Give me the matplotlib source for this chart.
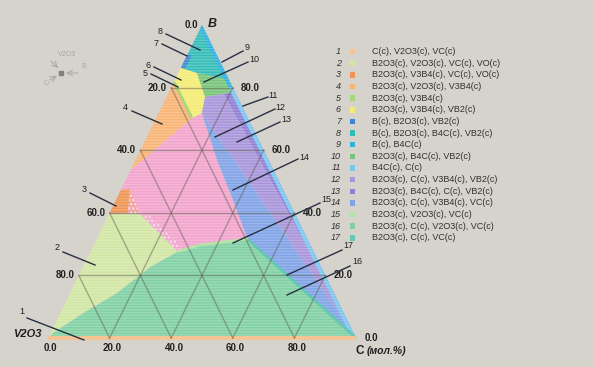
import matplotlib.pyplot as plt
from matplotlib.patches import Polygon

W, H, DPI = 593, 367, 100
BG = '#d6d3cd'

# phase fields of the V2O3-B-C section, vertices as (C mol.%, B mol.%)
field_1 = [(0, 0), (100, 0)]
field_2 = [(0, 39.6), (10.1, 39.6), (28.3, 27.6), (21.8, 22.7), (15.2, 14.4),
           (7.4, 8.0), (0.8, 1.6), (0, 0)]
field_3 = [(0, 47.3), (2.8, 47.6), (6.0, 39.9), (0, 39.6)]
field_3b = [(2.8, 47.6), (10.1, 39.6), (6.0, 39.9)]
field_4 = [(0, 81.8), (11.6, 70.3), (0, 53.7)]
field_5 = [(0, 81.8), (11.6, 70.3)]
field_6 = [(0, 86.3), (6.0, 84.7), (12.5, 77.0), (14.0, 71.9), (11.6, 70.3), (0, 81.8)]
field_7 = [(0, 90.5), (0, 86.3), (1.5, 86.0), (1.5, 90.2)]
field_8 = [(0, 100), (0, 86.3), (6.0, 84.7), (17.6, 82.4)]
field_9 = [(0, 100), (20, 80), (18.6, 80), (0, 98.6)]
field_10 = [(6.0, 84.7), (17.6, 82.4), (21.4, 78.6), (12.5, 77.0)]
field_11 = [(20, 80), (100, 0), (98.6, 0), (18.6, 80)]
field_12 = [(14.0, 71.9), (12.5, 77.0), (18.0, 78.0), (100, 0)]
field_13 = [(18.0, 78.0), (21.4, 78.6), (100, 0)]
field_14 = [(14.0, 71.9), (26.4, 56.9), (38.0, 44.1), (49.0, 31.6), (100, 0)]
field_15 = [(28.3, 27.6), (34.5, 29.7), (49.0, 31.6)]
field_16 = [(0, 0), (0.8, 1.6), (7.4, 8.0), (15.2, 14.4), (21.8, 22.7), (28.3, 27.6),
            (34.5, 29.7), (49.0, 31.6), (100, 0)]
field_17 = [(49.0, 31.6), (100, 0)]
field_pink = [(11.6, 70.3), (14.0, 71.9), (26.4, 56.9), (38.0, 44.1), (49.0, 31.6),
              (34.5, 29.7), (28.3, 27.6), (10.1, 39.6), (2.8, 47.6), (0, 47.3), (0, 53.7)]
# dotted fringe of the pink field along its lower-left border
fringe = [(10.1, 39.6), (28.3, 27.6), (30.2, 28.2), (12.8, 39.6)]

colors = ['#f4c494', '#d2e6a4', '#f09454', '#f8b474', '#a8d878', '#f4ec74',
          '#3c88d0', '#34bcb8', '#30b0e0', '#78c478', '#78c8f0', '#a894da',
          '#8e7ed4', '#80a2e6', '#b4e4a8', '#80d0a4', '#64c8b4']
PINK = '#f2a4cc'

legend_text = ['C(c), V2O3(c), VC(c)',
               'B2O3(c), V2O3(c), VC(c), VO(c)',
               'B2O3(c), V3B4(c), VC(c), VO(c)',
               'B2O3(c), V2O3(c), V3B4(c)',
               'B2O3(c), V3B4(c)',
               'B2O3(c), V3B4(c), VB2(c)',
               'B(c), B2O3(c), VB2(c)',
               'B(c), B2O3(c), B4C(c), VB2(c)',
               'B(c), B4C(c)',
               'B2O3(c), B4C(c), VB2(c)',
               'B4C(c), C(c)',
               'B2O3(c), C(c), V3B4(c), VB2(c)',
               'B2O3(c), B4C(c), C(c), VB2(c)',
               'B2O3(c), C(c), V3B4(c), VC(c)',
               'B2O3(c), V2O3(c), VC(c)',
               'B2O3(c), C(c), V2O3(c), VC(c)',
               'B2O3(c), C(c), VC(c)']

ticks = [0, 20, 40, 60, 80]

# field number -> (text position, leader start, leader end) in pixels
callouts = {
    '1': ((22, 312), (27, 318), (84, 340)),
    '2': ((57, 248), (63, 252), (95, 265)),
    '3': ((84, 190), (90, 193), (116, 206)),
    '4': ((125, 107), (132, 111), (162, 124)),
    '5': ((145, 73), (151, 74), (178, 87)),
    '6': ((148, 66), (154, 67), (181, 80)),
    '7': ((156, 43), (162, 44), (187, 56)),
    '8': ((160, 32), (166, 34), (200, 50)),
    '9': ((247, 48), (243, 51), (222, 62)),
    '10': ((254, 60), (248, 62), (204, 82)),
    '11': ((273, 95), (268, 97), (243, 106)),
    '12': ((280, 107), (275, 109), (215, 137)),
    '13': ((286, 120), (280, 122), (237, 142)),
    '14': ((304, 157), (298, 159), (233, 190)),
    '15': ((326, 200), (320, 203), (233, 243)),
    '17': ((348, 246), (342, 250), (287, 275)),
    '16': ((357, 262), (350, 266), (287, 295)),
}


def tern(c, b):
    return c + b / 2.0, b


def poly(pts):
    return [tern(c, b) for c, b in pts]


fig = plt.figure(figsize=(W / DPI, H / DPI), dpi=DPI)
fig.patch.set_facecolor(BG)

# ternary axes sitting on the triangle's bounding box
ax = fig.add_axes([48 / W, 1 - 338 / H, 308 / W, 313 / H])
ax.set_xlim(0, 100)
ax.set_ylim(0, 100)
ax.axis('off')

fields = [(field_pink, PINK), (field_16, colors[15]), (field_14, colors[13]),
          (field_2, colors[1]), (field_4, colors[3]), (field_6, colors[5]),
          (field_8, colors[7]), (field_10, colors[9]), (field_13, colors[12]),
          (field_12, colors[11]), (field_3, colors[2]), (field_7, colors[6]),
          (field_9, colors[8]), (field_11, colors[10])]
for pts, col in fields:
    ax.add_patch(Polygon(poly(pts), closed=True, facecolor=col, edgecolor='none',
                         clip_on=False))

ax.add_patch(Polygon(poly(field_3b), closed=True, facecolor='#f29c9c', hatch='....',
                     edgecolor=(1, 1, 1, 0.7), linewidth=0, clip_on=False))
ax.add_patch(Polygon(poly(fringe), closed=True, facecolor=PINK, hatch='....',
                     edgecolor=(1, 1, 1, 0.6), linewidth=0, clip_on=False))

for pts, col, lw in [(field_5, colors[4], 2.0), (field_15, colors[14], 2.0),
                     (field_17, colors[16], 2.0), (field_1, colors[0], 3.0)]:
    xs, ys = zip(*poly(pts))
    ax.plot(xs, ys, color=col, lw=lw, solid_capstyle='butt', clip_on=False)

# faint scanline texture over the coloured triangle
ax.add_patch(Polygon(poly([(0, 0), (100, 0), (0, 100)]), closed=True, facecolor='none',
                     hatch='------', edgecolor=(1, 1, 1, 0.22), linewidth=0, clip_on=False))

# composition grid
for v in ticks[1:]:
    for a, b in [((0, v), (100 - v, v)), ((v, 0), (v, 100 - v)), ((100 - v, 0), (0, 100 - v))]:
        (x0, y0), (x1, y1) = tern(*a), tern(*b)
        ax.plot([x0, x1], [y0, y1], color=(0.35, 0.35, 0.3, 0.45), lw=1.0, clip_on=False)

tick_font = dict(fontsize=7, fontweight='bold', family='Liberation Sans', color='#202020')
for v in ticks:
    # bottom: C, left edge counted down from B, right edge: B
    ax.annotate(f'{v:.1f}', tern(v, 0), xytext=(2, -7), textcoords='offset points',
                ha='center', va='center', **tick_font)
    ax.annotate(f'{v:.1f}', tern(0, 100 - v), xytext=(-3, 0), textcoords='offset points',
                ha='right', va='center', **tick_font)
    ax.annotate(f'{v:.1f}', tern(100 - v, v), xytext=(6, 0), textcoords='offset points',
                ha='left', va='center', **tick_font)

# corner names
ax.annotate('B', tern(0, 100), xytext=(4, 1), textcoords='offset points', ha='left',
            va='center', fontsize=9, fontweight='bold', style='italic',
            family='Liberation Sans', color='#202020')
ax.annotate('V2O3', tern(0, 0), xytext=(-15, 3), textcoords='offset points', ha='center',
            va='center', fontsize=8, fontweight='bold', style='italic',
            family='Liberation Sans', color='#202020')
ax.annotate('C', tern(100, 0), xytext=(0, -9), textcoords='offset points', ha='left',
            va='center', fontsize=8.5, fontweight='bold', family='Liberation Sans',
            color='#202020')
ax.annotate('(мол.%)', tern(100, 0), xytext=(8, -9), textcoords='offset points',
            ha='left', va='center', fontsize=7.5, fontweight='bold', style='italic',
            family='Liberation Sans', color='#202020')

# pixel overlay for callouts, legend and orientation sketch
lay = fig.add_axes([0, 0, 1, 1], zorder=3)
lay.set_xlim(0, W)
lay.set_ylim(H, 0)
lay.axis('off')
lay.patch.set_alpha(0)

for num, ((tx, ty), p0, p1) in callouts.items():
    lay.plot([p0[0], p1[0]], [p0[1], p1[1]], color='#263040', lw=1.0)
    lay.text(tx, ty, num, ha='center', va='center', fontsize=6.5,
             family='Liberation Sans', color='#202020')

for i, (lbl, col) in enumerate(zip(legend_text, colors)):
    y = 51.5 + 11.65 * i
    lay.text(341, y, str(i + 1), ha='right', va='center', fontsize=6.5, style='italic',
             family='Liberation Sans', color='#303030')
    lay.add_patch(plt.Rectangle((349.5, y - 2.8), 5.6, 5.6, facecolor=col, edgecolor='none'))
    lay.text(372, y, lbl, ha='left', va='center', fontsize=6.5,
             family='Liberation Sans', color='#303030')

# orientation sketch
GR = '#a6a6a6'
lay.text(67, 55, 'V2O3', fontsize=5, color=GR, ha='center', va='center',
         family='Liberation Sans')
lay.text(84, 66, 'B', fontsize=5, color=GR, ha='center', va='center', family='Liberation Sans')
lay.text(47, 83, 'C', fontsize=5, color=GR, ha='center', va='center', rotation=45,
         family='Liberation Sans')
lay.plot([61], [73], marker='s', ms=2.5, color='#808080')
for (x0, y0), (x1, y1) in [((51, 61), (58, 68)), ((78, 73), (66, 73)), ((50, 80), (57, 76))]:
    lay.annotate('', xy=(x1, y1), xytext=(x0, y0),
                 arrowprops=dict(arrowstyle='->', color=GR, lw=0.7, shrinkA=0, shrinkB=0))

fig.savefig('out.png', dpi=DPI, facecolor=BG)
